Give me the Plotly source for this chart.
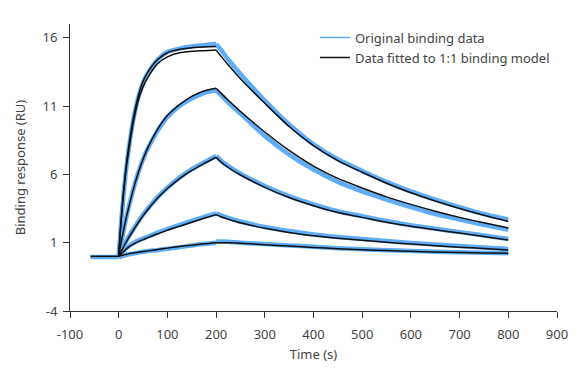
import plotly.graph_objects as go

# ---- data ----
T_BASE = [-58, 0]
BASE = [0.0, 0.0]
BASE_RAW = [-0.05, -0.05]

T_ASSOC = [0, 5, 10, 15, 20, 30, 40, 50, 60, 80, 100, 125, 150, 175, 200]
T_DISSOC = [200, 210, 225, 250, 300, 350, 400, 450, 500, 550, 600, 650, 700, 750, 800]

# fitted curves (1:1 model), five analyte concentrations
A_FIT_ASSOC = [0, 2.6, 4.6, 6.3, 7.6, 9.8, 11.4, 12.4, 13.1, 14.1, 14.6, 14.9, 15.0, 15.05, 15.1]
A2_FIT_ASSOC = [0, 2.7, 4.8, 6.5, 7.9, 10.1, 11.7, 12.8, 13.5, 14.4, 14.9, 15.15, 15.27, 15.32, 15.35]
A_FIT_DISSOC = [15.1, 14.65, 14.0, 13.0, 11.2, 9.5, 8.1, 7.0, 6.15, 5.35, 4.65, 4.05, 3.5, 3.0, 2.55]
B_FIT_ASSOC = [0, 1.0, 1.9, 2.75, 3.5, 4.9, 6.1, 7.1, 7.95, 9.3, 10.3, 11.1, 11.7, 12.1, 12.3]
B_FIT_DISSOC = [12.3, 11.94, 11.42, 10.6, 9.1, 7.75, 6.6, 5.7, 5.0, 4.35, 3.8, 3.3, 2.85, 2.45, 2.07]
C_FIT_ASSOC = [0, 0.36, 0.69, 1.02, 1.33, 1.91, 2.46, 2.97, 3.43, 4.26, 4.96, 5.69, 6.29, 6.78, 7.25]
C_FIT_DISSOC = [7.25, 6.9, 6.5, 5.95, 5.05, 4.3, 3.7, 3.2, 2.85, 2.5, 2.2, 1.95, 1.7, 1.45, 1.2]
D_FIT_ASSOC = [0, 0.18, 0.35, 0.52, 0.68, 0.9, 1.08, 1.22, 1.37, 1.65, 1.92, 2.2, 2.5, 2.78, 3.05]
D_FIT_DISSOC = [3.05, 2.9, 2.72, 2.45, 2.05, 1.75, 1.5, 1.32, 1.17, 1.03, 0.9, 0.78, 0.67, 0.57, 0.47]
E_FIT_ASSOC = [0, 0.05, 0.1, 0.14, 0.18, 0.24, 0.3, 0.35, 0.4, 0.5, 0.6, 0.72, 0.82, 0.92, 1.0]
E_FIT_DISSOC = [1.0, 1.0, 0.99, 0.95, 0.85, 0.75, 0.65, 0.56, 0.48, 0.42, 0.37, 0.32, 0.28, 0.25, 0.22]

# original (measured) binding data, traced through the middle of each noisy band
A_RAW_ASSOC = [0, 2.5, 4.5, 6.3, 7.7, 10.0, 11.6, 12.7, 13.4, 14.4, 14.95, 15.2, 15.35, 15.45, 15.55]
A_RAW_DISSOC = [15.55, 15.1, 14.4, 13.35, 11.4, 9.65, 8.2, 7.1, 6.25, 5.45, 4.75, 4.15, 3.6, 3.1, 2.7]
B_RAW_ASSOC = [0, 1.0, 1.9, 2.75, 3.5, 4.9, 6.1, 7.1, 7.9, 9.2, 10.2, 11.0, 11.55, 11.95, 12.15]
B_RAW_DISSOC = [12.15, 11.8, 11.25, 10.45, 8.8, 7.45, 6.35, 5.45, 4.75, 4.15, 3.6, 3.1, 2.7, 2.3, 1.95]
C_RAW_ASSOC = [0, 0.4, 0.75, 1.08, 1.4, 1.98, 2.53, 3.05, 3.5, 4.33, 5.03, 5.76, 6.37, 6.86, 7.35]
C_RAW_DISSOC = [7.35, 7.0, 6.6, 6.05, 5.15, 4.4, 3.8, 3.3, 2.93, 2.58, 2.27, 2.02, 1.77, 1.52, 1.27]
D_RAW_ASSOC = [0, 0.2, 0.38, 0.56, 0.72, 0.96, 1.15, 1.3, 1.45, 1.74, 2.0, 2.3, 2.6, 2.88, 3.15]
D_RAW_DISSOC = [3.15, 3.0, 2.82, 2.55, 2.15, 1.85, 1.6, 1.42, 1.27, 1.12, 0.98, 0.86, 0.75, 0.64, 0.53]
E_RAW_ASSOC = [-0.1, 0.0, 0.05, 0.1, 0.15, 0.2, 0.27, 0.33, 0.39, 0.45, 0.56, 0.67, 0.8, 0.9, 1.0]
E_RAW_DISSOC = [1.08, 1.08, 1.06, 1.0, 0.9, 0.8, 0.7, 0.6, 0.52, 0.45, 0.39, 0.34, 0.3, 0.26, 0.23]

X_TICKS = [-100, 0, 100, 200, 300, 400, 500, 600, 700, 800, 900]
Y_TICKS = [-4, 1, 6, 11, 16]

LEGEND_RAW = "Original binding data"
LEGEND_FIT = "Data fitted to 1:1 binding model"
X_TITLE = "Time (s)"
Y_TITLE = "Binding response (RU)"

BLUE = "#5eadf6"
BLACK = "#111111"
TEXT = "#444444"
FONT = "Noto Sans"

fig = go.Figure()

raw_sets = [(A_RAW_ASSOC, A_RAW_DISSOC), (B_RAW_ASSOC, B_RAW_DISSOC), (C_RAW_ASSOC, C_RAW_DISSOC),
            (D_RAW_ASSOC, D_RAW_DISSOC), (E_RAW_ASSOC, E_RAW_DISSOC)]
fit_sets = [(A_FIT_ASSOC, A_FIT_DISSOC), (B_FIT_ASSOC, B_FIT_DISSOC), (C_FIT_ASSOC, C_FIT_DISSOC),
            (D_FIT_ASSOC, D_FIT_DISSOC), (E_FIT_ASSOC, E_FIT_DISSOC)]

raw_line = dict(color=BLUE, width=4.5, shape="spline", smoothing=0.8)
fit_line = dict(color=BLACK, width=1.5, shape="spline", smoothing=0.8)

# measured data
fig.add_trace(go.Scatter(x=T_BASE, y=BASE_RAW, mode="lines", line=dict(color=BLUE, width=4.5),
                         showlegend=False, hoverinfo="skip"))
for assoc, dissoc in raw_sets:
    fig.add_trace(go.Scatter(x=T_ASSOC, y=assoc, mode="lines", line=raw_line, showlegend=False))
    fig.add_trace(go.Scatter(x=T_DISSOC, y=dissoc, mode="lines", line=raw_line, showlegend=False))

# fitted model
fig.add_trace(go.Scatter(x=T_BASE, y=BASE, mode="lines", line=dict(color=BLACK, width=1.5),
                         showlegend=False))
for assoc, dissoc in fit_sets:
    fig.add_trace(go.Scatter(x=T_ASSOC, y=assoc, mode="lines", line=fit_line, showlegend=False))
    fig.add_trace(go.Scatter(x=T_DISSOC, y=dissoc, mode="lines", line=fit_line, showlegend=False))
fig.add_trace(go.Scatter(x=T_ASSOC, y=A2_FIT_ASSOC, mode="lines", line=fit_line, showlegend=False))

# legend entries (one per legend box so the row positions can be matched)
fig.add_trace(go.Scatter(x=[None], y=[None], mode="lines", name=LEGEND_RAW,
                         line=dict(color=BLUE, width=1.5), legend="legend"))
fig.add_trace(go.Scatter(x=[None], y=[None], mode="lines", name=LEGEND_FIT,
                         line=dict(color=BLACK, width=1.5), legend="legend2"))

axis_common = dict(showline=True, linecolor="#333333", linewidth=1, ticks="outside", ticklen=6,
                   tickcolor="#333333", tickwidth=1, showgrid=False, zeroline=False,
                   tickfont=dict(family=FONT, size=13, color=TEXT))

legend_common = dict(xanchor="left", yanchor="top", bgcolor="rgba(0,0,0,0)",
                     font=dict(family=FONT, size=13, color=TEXT))

fig.update_layout(
    width=586, height=376,
    margin=dict(l=53, r=37, t=16, b=73),
    paper_bgcolor="white", plot_bgcolor="white",
    font=dict(family=FONT, size=13, color=TEXT),
    legend=dict(x=0.503, y=1.005, **legend_common),
    legend2=dict(x=0.503, y=0.935, **legend_common),
    xaxis=dict(range=[-100, 900], tickvals=X_TICKS, ticktext=[str(v) for v in X_TICKS],
               ticklabelstandoff=5,
               title=dict(text=X_TITLE, font=dict(family=FONT, size=13, color=TEXT), standoff=8),
               **axis_common),
    yaxis=dict(range=[-4, 17], tickvals=Y_TICKS, ticktext=[str(v) for v in Y_TICKS],
               ticklabelstandoff=3,
               title=dict(text=Y_TITLE, font=dict(family=FONT, size=13, color=TEXT), standoff=13),
               **axis_common),
)

fig.write_html("out.html")
